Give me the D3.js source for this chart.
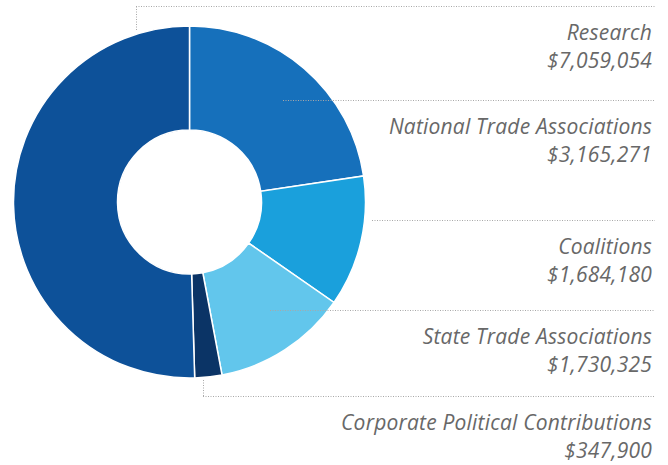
<!DOCTYPE html>
<html>
<head>
<meta charset="utf-8">
<script src="https://cdn.jsdelivr.net/npm/d3@7"></script>
<style>
  body { margin: 0; background: #fff; }
  text { font-family: "Open Sans", Lato, sans-serif; font-style: italic; }
</style>
</head>
<body>
<script>
// data, in drawing order (clockwise from 12 o'clock)
var categories = ["National Trade Associations", "Coalitions", "State Trade Associations",
                  "Corporate Political Contributions", "Research"];
var amounts = [3165271, 1684180, 1730325, 347900, 7059054];
var colors = ["#1670bb", "#1aa0dc", "#62c6ec", "#0b3466", "#0d5199"];

// label blocks top to bottom
var labelOrder = ["Research", "National Trade Associations", "Coalitions",
                  "State Trade Associations", "Corporate Political Contributions"];

var width = 668, height = 465;
var cx = 189.5, cy = 202, rOut = 176, rIn = 72;

var svg = d3.select("body").append("svg")
  .attr("width", width)
  .attr("height", height);

var data = categories.map(function(c, i) { return { name: c, value: amounts[i], color: colors[i] }; });

var pie = d3.pie().sort(null).value(function(d) { return d.value; });
var arc = d3.arc().innerRadius(rIn).outerRadius(rOut);
var arcs = pie(data);

var g = svg.append("g").attr("transform", "translate(" + cx + "," + cy + ")");
g.selectAll("path")
  .data(arcs)
  .enter()
  .append("path")
  .attr("d", arc)
  .attr("fill", function(d) { return d.data.color; })
  .attr("stroke", "#fff")
  .attr("stroke-width", 1.5);

// leader lines: each block has a line on top of it
var fmt = d3.format(",");
var rightX = 655, textX = 652;
var lineY = d3.scaleOrdinal().domain(labelOrder).range([6, 100, 220, 310, 396]);

function startX(name) {
  if (name == "Research") return 136;
  if (name == "National Trade Associations") return 283;
  if (name == "Coalitions") return 372;
  if (name == "State Trade Associations") return 270;
  return 203;
}

var lines = svg.append("g")
  .attr("fill", "none")
  .attr("stroke", "#a8a8a8")
  .attr("stroke-width", 1)
  .attr("stroke-dasharray", "1,1.5");

labelOrder.forEach(function(name) {
  var y = lineY(name) + 0.5;
  lines.append("line")
    .attr("x1", startX(name)).attr("x2", rightX)
    .attr("y1", y).attr("y2", y);
});
// vertical pieces
lines.append("line").attr("x1", 136.5).attr("x2", 136.5).attr("y1", 6.5).attr("y2", 31);
lines.append("line").attr("x1", 203.5).attr("x2", 203.5).attr("y1", 380).attr("y2", 396.5);

// labels
labelOrder.forEach(function(name) {
  var d = data.find(function(e) { return e.name == name; });
  var y = lineY(name);
  svg.append("text")
    .attr("x", textX).attr("y", y + 34)
    .attr("text-anchor", "end")
    .attr("font-size", 21)
    .attr("letter-spacing", 0.2)
    .attr("fill", "#686868")
    .text(name);
  svg.append("text")
    .attr("x", textX).attr("y", y + 62)
    .attr("text-anchor", "end")
    .attr("font-size", 21)
    .attr("letter-spacing", 0.2)
    .attr("fill", "#686868")
    .text("$" + fmt(d.value));
});
</script>
</body>
</html>
